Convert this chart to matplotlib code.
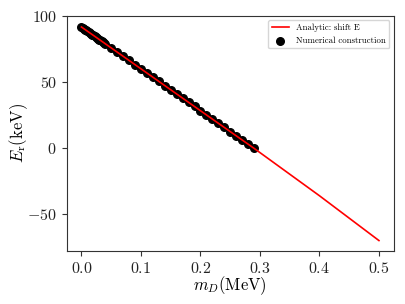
import numpy as np
import matplotlib
matplotlib.use('Agg')
import matplotlib.pyplot as plt
from matplotlib.ticker import FuncFormatter

plt.rcParams['font.family'] = 'cmr10'
plt.rcParams['mathtext.fontset'] = 'cm'
plt.rcParams['axes.unicode_minus'] = True

# analytic curve (shift E)
m_line = [0.0, 0.1, 0.2, 0.29, 0.4, 0.5]
E_line = [91.5, 59.8, 28.0, -0.5, -36.5, -70.5]

# numerical construction points
m_num = [0.0, 0.002, 0.004, 0.006, 0.008, 0.010, 0.012, 0.014, 0.016, 0.018,
         0.020, 0.022, 0.024, 0.026, 0.028, 0.030, 0.032, 0.034, 0.036, 0.038,
         0.040, 0.05, 0.06, 0.07, 0.08, 0.09, 0.10, 0.11, 0.12, 0.13, 0.14,
         0.15, 0.16, 0.17, 0.18, 0.19, 0.20, 0.21, 0.22, 0.23, 0.24, 0.25,
         0.26, 0.27, 0.28, 0.29]
E_num = [91.5, 90.9, 90.2, 89.6, 89.0, 88.3, 87.7, 87.1, 86.5, 85.8,
         85.2, 84.6, 83.9, 83.3, 82.7, 82.0, 81.4, 80.8, 80.1, 79.5,
         78.9, 75.7, 72.5, 69.3, 66.1, 63.0, 59.8, 56.6, 53.4, 50.3, 47.1,
         43.9, 40.7, 37.6, 34.4, 31.2, 28.0, 24.9, 21.7, 18.5, 15.3, 12.2,
         9.0, 5.8, 2.6, -0.5]

fig = plt.figure(figsize=(4.06, 3.04), dpi=100)
ax = fig.add_axes([0.164, 0.174, 0.806, 0.774])

ax.scatter(m_num, E_num, s=30, color='black', zorder=2, label='Numerical construction')
ax.plot(m_line, E_line, color='red', lw=1.2, zorder=3, label='Analytic: shift E')

ax.set_xticks([0.0, 0.1, 0.2, 0.3, 0.4, 0.5])
ax.set_yticks([-50, 0, 50, 100])
ax.xaxis.set_major_formatter(FuncFormatter(lambda v, p: r'$%.1f$' % v))
ax.yaxis.set_major_formatter(FuncFormatter(lambda v, p: r'$%d$' % round(v)))
ax.tick_params(labelsize=11.5, colors='#333333', labelcolor='#222222')
for sp in ax.spines.values():
    sp.set_color('#333333')
ax.set_ylim(-78.5, 100)

ax.set_xlabel(r'$m_D({\rm MeV})$', fontsize=12, labelpad=-1)
ax.set_ylabel(r'$E_{\rm r}({\rm keV})$', fontsize=12, labelpad=-2)

h, l = ax.get_legend_handles_labels()
ax.legend(h[::-1], l[::-1], loc='upper right', fontsize=6.3)

fig.savefig('out.png', dpi=100)
